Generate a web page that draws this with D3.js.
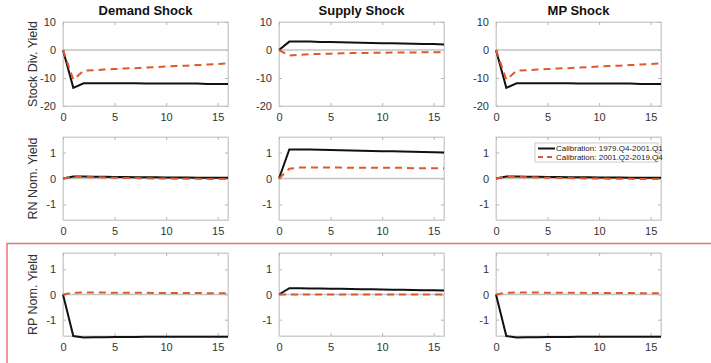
<!DOCTYPE html>
<html>
<head>
<meta charset="utf-8">
<script src="https://cdn.jsdelivr.net/npm/d3@7"></script>
<style>
  body { margin: 0; background: #fff; }
  svg { font-family: "Liberation Sans", Arial, sans-serif; }
</style>
</head>
<body>
<svg id="chart" width="711" height="363"></svg>
<script>
const horizon = d3.range(0, 17);
const colTitles = ["Demand Shock", "Supply Shock", "MP Shock"];
const rowLabels = ["Stock Div. Yield", "RN Nom. Yield", "RP Nom. Yield"];
const legendLabels = ["Calibration: 1979.Q4-2001.Q1", "Calibration: 2001.Q2-2019.Q4"];
const xTicks = [0, 5, 10, 15];
const yTicksStock = [-20, -10, 0, 10];
const yTicksYield = [-1, 0, 1];

// Stock dividend yield
const demandStockEarly = [0, -13.5, -11.9, -11.9, -11.9, -11.9, -11.9, -11.9, -12.0, -12.0, -12.0, -12.0, -12.0, -12.0, -12.1, -12.1, -12.1];
const demandStockLate  = [0, -10.6, -7.4, -7.2, -7.0, -6.8, -6.6, -6.5, -6.3, -6.1, -5.9, -5.7, -5.6, -5.4, -5.2, -5.0, -4.8];
const supplyStockEarly = [0, 3.0, 3.0, 3.0, 2.9, 2.9, 2.8, 2.7, 2.6, 2.5, 2.4, 2.4, 2.3, 2.2, 2.1, 2.1, 2.0];
const supplyStockLate  = [0, -2.0, -1.7, -1.5, -1.4, -1.3, -1.2, -1.1, -1.1, -1.0, -1.0, -0.9, -0.9, -0.9, -0.8, -0.8, -0.8];
const mpStockEarly     = [0, -13.5, -11.9, -11.9, -11.9, -11.9, -11.9, -11.9, -12.0, -12.0, -12.0, -12.0, -12.0, -12.0, -12.1, -12.1, -12.1];
const mpStockLate      = [0, -10.6, -7.4, -7.2, -7.0, -6.8, -6.6, -6.5, -6.3, -6.1, -5.9, -5.7, -5.6, -5.4, -5.2, -5.0, -4.8];

// Risk-neutral nominal yield
const demandRNEarly = [0, 0.08, 0.08, 0.07, 0.07, 0.06, 0.06, 0.05, 0.05, 0.05, 0.04, 0.04, 0.04, 0.03, 0.03, 0.03, 0.03];
const demandRNLate  = [0, 0.07, 0.06, 0.05, 0.04, 0.03, 0.02, 0.02, 0.01, 0.0, 0.0, -0.01, -0.01, -0.01, -0.02, -0.02, -0.02];
const supplyRNEarly = [0, 1.12, 1.12, 1.12, 1.11, 1.10, 1.09, 1.08, 1.07, 1.06, 1.05, 1.05, 1.04, 1.03, 1.02, 1.01, 1.0];
const supplyRNLate  = [0, 0.38, 0.42, 0.42, 0.42, 0.42, 0.42, 0.41, 0.41, 0.41, 0.41, 0.41, 0.41, 0.40, 0.40, 0.40, 0.40];
const mpRNEarly     = [0, 0.08, 0.08, 0.07, 0.07, 0.06, 0.06, 0.05, 0.05, 0.05, 0.04, 0.04, 0.04, 0.03, 0.03, 0.03, 0.03];
const mpRNLate      = [0, 0.07, 0.06, 0.05, 0.04, 0.03, 0.02, 0.02, 0.01, 0.0, 0.0, -0.01, -0.01, -0.01, -0.02, -0.02, -0.02];

// Risk premium nominal yield
const demandRPEarly = [0, -1.65, -1.71, -1.70, -1.70, -1.69, -1.69, -1.69, -1.68, -1.68, -1.68, -1.68, -1.68, -1.68, -1.68, -1.68, -1.68];
const demandRPLate  = [0, 0.07, 0.08, 0.08, 0.08, 0.07, 0.07, 0.07, 0.07, 0.06, 0.06, 0.06, 0.06, 0.06, 0.05, 0.05, 0.05];
const supplyRPEarly = [0, 0.25, 0.25, 0.24, 0.24, 0.23, 0.23, 0.22, 0.21, 0.21, 0.20, 0.19, 0.19, 0.18, 0.17, 0.17, 0.16];
const supplyRPLate  = [0, 0.0, 0.0, 0.0, 0.0, 0.0, 0.0, 0.0, 0.0, 0.0, 0.0, 0.0, 0.0, 0.0, 0.0, 0.0, 0.0];
const mpRPEarly     = [0, -1.65, -1.71, -1.70, -1.70, -1.69, -1.69, -1.69, -1.68, -1.68, -1.68, -1.68, -1.68, -1.68, -1.68, -1.68, -1.68];
const mpRPLate      = [0, 0.07, 0.08, 0.08, 0.08, 0.07, 0.07, 0.07, 0.07, 0.06, 0.06, 0.06, 0.06, 0.06, 0.05, 0.05, 0.05];

const panels = [
  [[demandStockEarly, demandStockLate], [supplyStockEarly, supplyStockLate], [mpStockEarly, mpStockLate]],
  [[demandRNEarly, demandRNLate], [supplyRNEarly, supplyRNLate], [mpRNEarly, mpRNLate]],
  [[demandRPEarly, demandRPLate], [supplyRPEarly, supplyRPLate], [mpRPEarly, mpRPLate]]
];

const svg = d3.select("#chart");
const colX = [63, 279, 496], panelW = 165;
const rows = [
  {top: 22, bottom: 106, domain: [-20, 10], ticks: yTicksStock},
  {top: 137, bottom: 220, domain: [-1.6, 1.6], ticks: yTicksYield},
  {top: 253, bottom: 336, domain: [-1.65, 1.65], ticks: yTicksYield}
];
const colors = ["#111111", "#e0592a"];
const boxColor = "#cfcfcf";
const fmt = d => String(d);

rows.forEach((row, r) => {
  const y = d3.scaleLinear().domain(row.domain).range([row.bottom, row.top]);
  colX.forEach((x0, c) => {
    const x = d3.scaleLinear().domain([0, 16]).range([x0, x0 + panelW]);
    const g = svg.append("g");

    g.append("rect")
      .attr("x", x0).attr("y", row.top)
      .attr("width", panelW).attr("height", row.bottom - row.top)
      .attr("fill", "none").attr("stroke", boxColor).attr("stroke-width", 1);

    g.append("g")
      .attr("transform", `translate(0,${row.bottom})`)
      .call(d3.axisBottom(x).tickValues(xTicks).tickFormat(fmt).tickSizeInner(-3).tickSizeOuter(0).tickPadding(7));
    g.append("g")
      .attr("transform", `translate(${x0},0)`)
      .call(d3.axisLeft(y).tickValues(row.ticks).tickFormat(fmt).tickSizeInner(-3).tickSizeOuter(0).tickPadding(7));
    g.append("g")
      .attr("transform", `translate(0,${row.top})`)
      .call(d3.axisTop(x).tickValues(xTicks).tickSizeInner(-3).tickSizeOuter(0).tickFormat(""));
    g.append("g")
      .attr("transform", `translate(${x0 + panelW},0)`)
      .call(d3.axisRight(y).tickValues(row.ticks).tickSizeInner(-3).tickSizeOuter(0).tickFormat(""));

    g.selectAll(".domain").attr("stroke", boxColor);
    g.selectAll(".tick line").attr("stroke", "#b5b5b5");
    g.selectAll(".tick text").attr("fill", "#333").style("font-size", "11px");

    g.append("line")
      .attr("x1", x0).attr("x2", x0 + panelW)
      .attr("y1", y(0)).attr("y2", y(0))
      .attr("stroke", "#c4c4c4").attr("stroke-width", 1.3);

    const line = d3.line().x((d, i) => x(horizon[i])).y(d => y(d));
    panels[r][c].forEach((series, s) => {
      g.append("path")
        .datum(series)
        .attr("d", line)
        .attr("fill", "none")
        .attr("stroke", colors[s])
        .attr("stroke-width", 2)
        .attr("stroke-dasharray", s === 1 ? "7,5" : null);
    });

    if (r === 0) {
      svg.append("text")
        .attr("x", x0 + panelW / 2).attr("y", 15)
        .attr("text-anchor", "middle")
        .attr("font-weight", "bold").attr("font-size", 13)
        .attr("fill", "#111")
        .text(colTitles[c]);
    }
    if (c === 0) {
      svg.append("text")
        .attr("transform", `translate(37,${(row.top + row.bottom) / 2}) rotate(-90)`)
        .attr("text-anchor", "middle")
        .attr("font-size", 12.5).attr("fill", "#333")
        .text(rowLabels[r]);
    }
  });
});

// legend in MP / RN panel
const lg = svg.append("g").attr("transform", "translate(535,143)");
lg.append("rect").attr("width", 123).attr("height", 19)
  .attr("fill", "#fff").attr("stroke", "#bdbdbd").attr("stroke-width", 0.8);
legendLabels.forEach((lab, i) => {
  const yy = 5.5 + i * 8.5;
  lg.append("line").attr("x1", 3).attr("x2", 20).attr("y1", yy).attr("y2", yy)
    .attr("stroke", colors[i]).attr("stroke-width", 2)
    .attr("stroke-dasharray", i === 1 ? "5,4" : null);
  lg.append("text").attr("x", 21).attr("y", yy + 2.8)
    .attr("font-size", 8).attr("fill", "#222").text(lab);
});

// red highlight frame
svg.append("path")
  .attr("d", "M7,363 L7,243.5 L711,243.5")
  .attr("fill", "none").attr("stroke", "#f0707a").attr("stroke-width", 1.5);
</script>
</body>
</html>
